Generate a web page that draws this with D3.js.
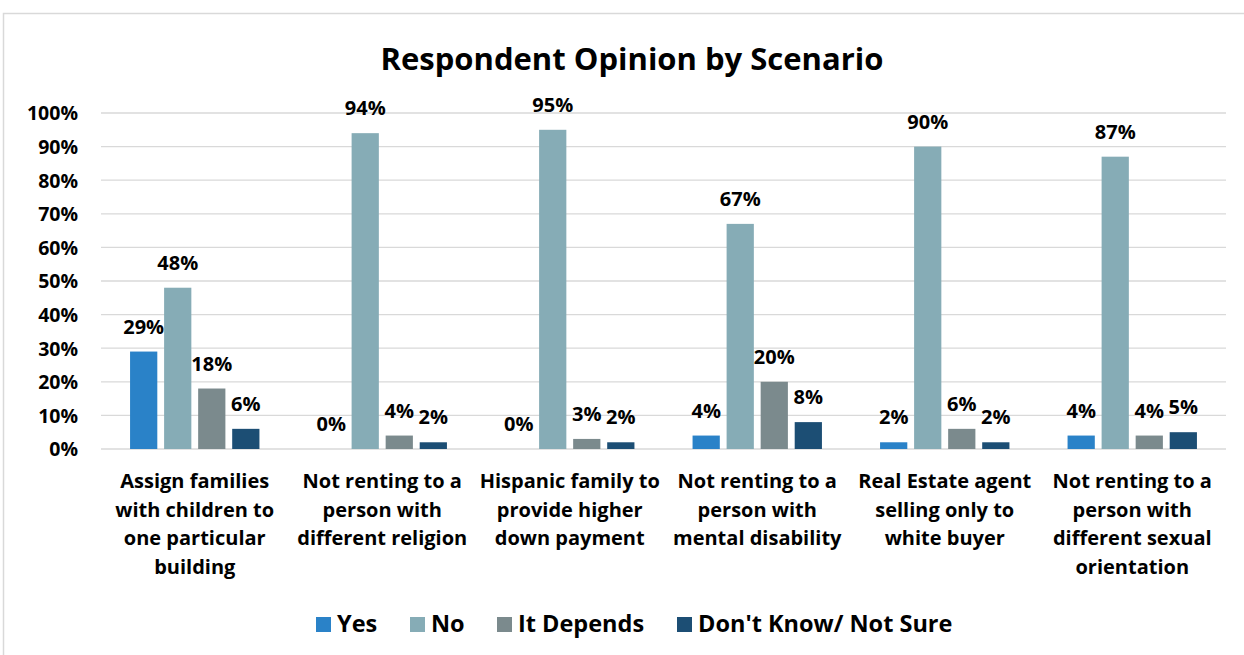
<!DOCTYPE html>
<html>
<head>
<meta charset="utf-8">
<script src="https://cdn.jsdelivr.net/npm/d3@7/dist/d3.min.js"></script>
<style>
  html, body { margin: 0; padding: 0; background: #fff; }
  svg { display: block; }
  text { font-family: "Open Sans", Lato, sans-serif; font-weight: bold; fill: #000; }
</style>
</head>
<body>
<svg id="chart" width="1244" height="655"></svg>
<script>
// Survey scenarios (each line of the axis label is kept separately)
const categories = [
  ["Assign families", "with children to", "one particular", "building"],
  ["Not renting to a", "person with", "different religion"],
  ["Hispanic family to", "provide higher", "down payment"],
  ["Not renting to a", "person with", "mental disability"],
  ["Real Estate agent", "selling only to", "white buyer"],
  ["Not renting to a", "person with", "different sexual", "orientation"]
];

const seriesNames = ["Yes", "No", "It Depends", "Don't Know/ Not Sure"];

// Share of respondents (%) per scenario, one array per answer
const yesValues       = [29, 0, 0, 4, 2, 4];
const noValues        = [48, 94, 95, 67, 90, 87];
const dependsValues   = [18, 4, 3, 20, 6, 4];
const dontKnowValues  = [6, 2, 2, 8, 2, 5];

const yTicks = [0, 10, 20, 30, 40, 50, 60, 70, 80, 90, 100];

const colors = ["#2a82c8", "#86acb6", "#7b8a8d", "#1c4e74"];

const seriesValues = [yesValues, noValues, dependsValues, dontKnowValues];

const svg = d3.select("#chart");

// chart frame
svg.append("rect")
  .attr("x", 3.5).attr("y", 13.5)
  .attr("width", 1260).attr("height", 700)
  .attr("fill", "#fff")
  .attr("stroke", "#d9d9d9")
  .attr("stroke-width", 1.5);

const plot = { left: 101, right: 1226, top: 113, bottom: 449 };

const y = d3.scaleLinear().domain([0, 100]).range([plot.bottom, plot.top]);

const x0 = d3.scaleBand()
  .domain(d3.range(categories.length))
  .range([plot.left, plot.right])
  .paddingInner(0.31)
  .paddingOuter(0.155);

const x1 = d3.scaleBand()
  .domain(d3.range(seriesNames.length))
  .range([0, x0.bandwidth()])
  .paddingInner(0.2)
  .paddingOuter(0);

// title
svg.append("text")
  .attr("x", 632).attr("y", 70)
  .attr("text-anchor", "middle")
  .style("font-size", "31px")
  .text("Respondent Opinion by Scenario");

// gridlines
svg.append("g")
  .selectAll("line")
  .data(yTicks)
  .join("line")
  .attr("x1", plot.left).attr("x2", plot.right)
  .attr("y1", d => y(d)).attr("y2", d => y(d))
  .attr("stroke", "#d9d9d9")
  .attr("stroke-width", 1.3);

// y axis labels
const yAxis = d3.axisLeft(y)
  .tickValues(yTicks)
  .tickFormat(d => d + "%")
  .tickSize(0)
  .tickPadding(0);
const yg = svg.append("g")
  .attr("transform", `translate(78,0)`)
  .call(yAxis);
yg.select(".domain").remove();
yg.selectAll("text")
  .style("font-size", "19.5px")
  .style("font-family", "'Open Sans', Lato, sans-serif")
  .style("font-weight", "bold")
  .attr("fill", "#000")
  .attr("dy", "0.35em");

// bars and value labels
const groups = svg.append("g")
  .selectAll("g")
  .data(categories.map((c, i) => i))
  .join("g")
  .attr("transform", i => `translate(${x0(i)},0)`);

groups.selectAll("rect")
  .data(i => seriesValues.map((vals, s) => ({ s, v: vals[i] })))
  .join("rect")
  .attr("x", d => x1(d.s))
  .attr("width", x1.bandwidth())
  .attr("y", d => y(d.v))
  .attr("height", d => y(0) - y(d.v))
  .attr("fill", d => colors[d.s]);

groups.selectAll("text.val")
  .data(i => seriesValues.map((vals, s) => ({ s, v: vals[i] })))
  .join("text")
  .attr("class", "val")
  .attr("x", d => x1(d.s) + x1.bandwidth() / 2)
  .attr("y", d => y(d.v) - 18)
  .attr("text-anchor", "middle")
  .style("font-size", "20px")
  .text(d => d.v + "%");

// category labels
const catG = svg.append("g");
categories.forEach((lines, i) => {
  const t = catG.append("text")
    .attr("x", x0(i) + x0.bandwidth() / 2)
    .attr("y", 488)
    .attr("text-anchor", "middle")
    .style("font-size", "20px");
  lines.forEach((ln, k) => {
    t.append("tspan")
      .attr("x", x0(i) + x0.bandwidth() / 2)
      .attr("dy", k === 0 ? 0 : 28.5)
      .text(ln);
  });
});

// legend
const legendX = [316, 410, 497, 677];
const legend = svg.append("g");
seriesNames.forEach((name, s) => {
  legend.append("rect")
    .attr("x", legendX[s]).attr("y", 617)
    .attr("width", 15).attr("height", 15)
    .attr("fill", colors[s]);
  legend.append("text")
    .attr("x", legendX[s] + 21).attr("y", 632)
    .style("font-size", "23.5px")
    .text(name);
});
</script>
</body>
</html>
